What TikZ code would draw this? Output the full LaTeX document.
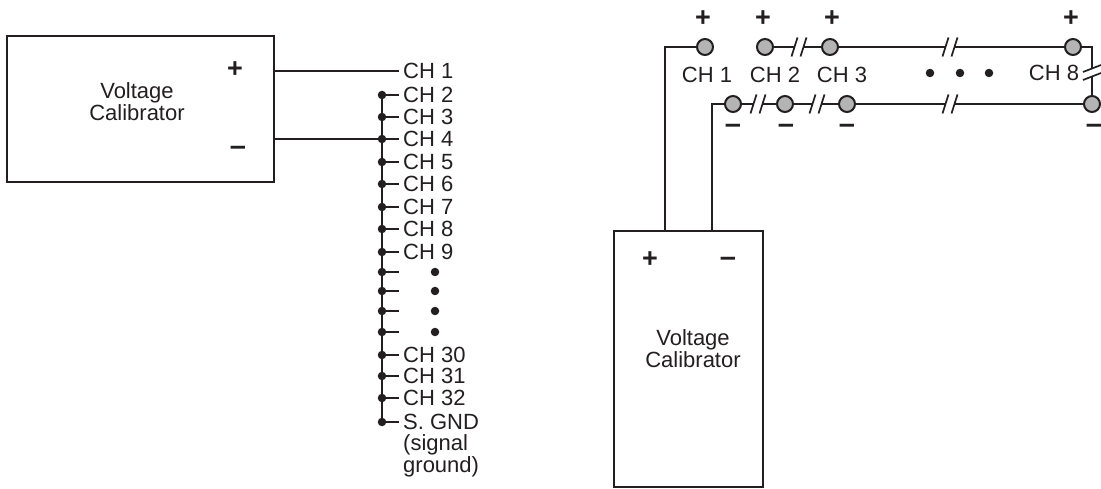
\documentclass[tikz,border=0pt]{standalone}
\usepackage{fontspec}
\setmainfont{Liberation Sans}
\usetikzlibrary{positioning}
\definecolor{ink}{HTML}{231F20}
\definecolor{termgray}{HTML}{B4B4B4}

\begin{document}
\begin{tikzpicture}[
  x=1pt, y=-1pt,
  every node/.style={align=center, text=ink, font=\fontsize{22}{22}\selectfont},
  wire/.style={draw=ink, line width=2.1pt},
  cut/.style={draw=ink, line width=1.7pt},
  calib/.style={rectangle, draw=ink, line width=2.1pt},
  chlbl/.style={anchor=west, inner xsep=4pt, inner ysep=0pt},
  junc/.style={circle, fill=ink, inner sep=0pt, minimum size=8.5pt},
  vdot/.style={circle, fill=ink, inner sep=0pt, minimum size=8.5pt},
  term/.style={circle, draw=ink, fill=termgray, line width=2pt, inner sep=0pt, minimum size=16pt},
  plussign/.style={inner sep=0pt, font=\fontsize{27}{27}\selectfont\bfseries},
  minussign/.style={inner sep=0pt, font=\fontsize{29}{29}\selectfont\bfseries},
  hcut/.pic={
    \draw[cut] (-7.5,9.5) -- (-1.5,-9.5);
    \draw[cut] (1.5,9.5) -- (7.5,-9.5);
  }
]
\useasboundingbox (0,0) rectangle (1101,489);

% Left calibrator
\node[calib, minimum width=267pt, minimum height=146pt] (calA) at (140.5,109) {};
\node (calAtxt) at (137,101.5) {Voltage\\Calibrator};
\node[plussign] (calAp) at (235,70) {+};
\node[minussign] (calAm) at (238,151) {–};
\coordinate (pA) at (274,71);
\coordinate (mA) at (274,139);

% Channel list
\node[chlbl] (c1) at (399,71) {CH 1};
\draw[wire] (pA) -- (c1.west);
\foreach \yy/\nm/\txt in {95/c2/CH 2, 117/c3/CH 3, 139/c4/CH 4, 162/c5/CH 5,
    184/c6/CH 6, 207/c7/CH 7, 229/c8/CH 8, 252/c9/CH 9, 272/d1/{}, 291/d2/{},
    311/d3/{}, 332/d4/{}, 355/c30/CH 30, 376/c31/CH 31, 398/c32/CH 32, 422/gnd/S. GND}{
  \node[junc] (j\nm) at (382,\yy) {};
  \node[chlbl] (\nm) at (399,\yy) {\txt};
  \draw[wire] (j\nm.center) -- (\nm.west);
}
\foreach \yy in {272,291,311,332}
  \node[vdot] (v\yy) at (435,\yy) {};
\node[anchor=north west, align=left, inner xsep=4pt, inner ysep=0pt] (gndnote) at (399,434) {(signal\\ground)};

% Ground bus
\draw[wire] (jc2.center) -- (jgnd.center);
\draw[wire] (mA) -- (jc4.center);

% Right calibrator
\node[calib, minimum width=149pt, minimum height=256pt] (calB) at (688.5,359) {};
\node (calBtxt) at (693,348.5) {Voltage\\Calibrator};
\node[plussign] (calBp) at (650,260) {+};
\node[minussign] (calBm) at (728,262) {–};
\coordinate (pB) at (665,231);
\coordinate (mB) at (712,231);

% Terminals
\node[term] (t1) at (705,47) {};
\node[term] (t2) at (765,47) {};
\node[term] (t3) at (830,47) {};
\node[term] (t8) at (1073,47) {};
\node[term] (b1) at (733,104) {};
\node[term] (b2) at (785,104) {};
\node[term] (b3) at (847,104) {};
\node[term] (b8) at (1092,104) {};

% Terminal signs
\node[plussign] (st1) at (703,19) {+};
\node[plussign] (st2) at (763,19) {+};
\node[plussign] (st3) at (832,19) {+};
\node[plussign] (st8) at (1071,19) {+};
\node[minussign] (sb1) at (733,129) {–};
\node[minussign] (sb2) at (786,129) {–};
\node[minussign] (sb3) at (847,129) {–};
\node[minussign] (sb8) at (1094,129) {–};

% Channel names
\node (n1) at (707,75) {CH 1};
\node (n2) at (775,75) {CH 2};
\node (n3) at (842,75) {CH 3};
\node (n8) at (1054,73) {CH 8};
\node[vdot] (e1) at (930,73) {};
\node[vdot] (e2) at (960,73) {};
\node[vdot] (e3) at (989,73) {};

% Wiring with breaks
\draw[wire] (pB) |- (t1.west);
\draw[wire] (mB) |- (b1.west);
\foreach \nm/\xx/\yy/\a/\b in {k1/799/47/t2/t3, k2/950/47/t3/t8,
    k3/758/104/b1/b2, k4/817/104/b2/b3, k5/950/104/b3/b8}{
  \coordinate (\nm l) at (\xx-4.5,\yy);
  \coordinate (\nm r) at (\xx+4.5,\yy);
  \pic at (\xx,\yy) {hcut};
  \draw[wire] (\a) -- (\nm l);
  \draw[wire] (\nm r) -- (\b);
}
\coordinate (k6u) at (1092,68.5);
\coordinate (k6d) at (1092,76.5);
\draw[wire] (t8) -| (k6u);
\draw[wire] (k6d) -- (b8);
\draw[cut] (1083,72) -- (1101,65);
\draw[cut] (1083,80) -- (1101,73);

\end{tikzpicture}
\end{document}
